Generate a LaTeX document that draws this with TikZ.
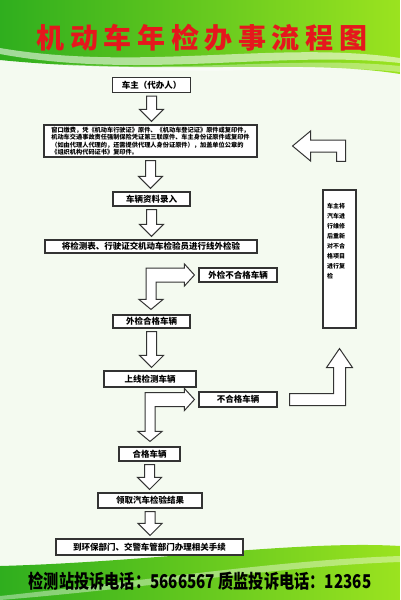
\documentclass[tikz,border=0pt]{standalone}
\usepackage{fontspec}
\newfontfamily\cjk{Noto Sans CJK SC}
\usetikzlibrary{calc}
\definecolor{hdrA}{HTML}{2FAE1E}
\definecolor{hdrB}{HTML}{9BE31F}
\definecolor{paper}{HTML}{F4FAF0}
\definecolor{ink}{HTML}{333333}
\definecolor{titlered}{HTML}{E5171D}
\newcommand\hollowdown[2]{%
  \draw[hollow] let \p1=(#1.south), \p2=(#2.north) in
    (\x1-5pt,\y1-3pt) -- (\x1+5pt,\y1-3pt) -- (\x1+5pt,\y2+15pt) -- (\x1+12pt,\y2+15pt)
    -- (\x1,\y2+3pt) -- (\x1-12pt,\y2+15pt) -- (\x1-5pt,\y2+15pt) -- cycle;}
\newcommand\hollowbranch[3]{%
  \draw[hollow] let \p1=(#1.south), \p2=(#2.north), \p3=(#3.west) in
    (\x1-5pt,\y3+7pt) -- (\x3-14pt,\y3+7pt) -- (\x3-14pt,\y3+11pt) -- (\x3-4pt,\y3)
    -- (\x3-14pt,\y3-11pt) -- (\x3-14pt,\y3-7pt) -- (\x1+5pt,\y3-7pt) -- (\x1+5pt,\y2+15pt)
    -- (\x1+12pt,\y2+15pt) -- (\x1,\y2+5pt) -- (\x1-12pt,\y2+15pt) -- (\x1-5pt,\y2+15pt) -- cycle;}
\begin{document}
\begin{tikzpicture}[x=1pt,y=-1pt,line join=miter,
  box/.style={draw=ink,line width=1.1pt,fill=white,inner sep=0pt,minimum height=14pt,
    font=\cjk\bfseries\fontsize{8.5}{10}\selectfont},
  hollow/.style={draw=ink,line width=1pt,fill=white}]
  \useasboundingbox (0,0) rectangle (400,600);
  \fill[paper] (0,0) rectangle (400,600);
  \shade[left color=hdrA,right color=hdrB] (0,0) -- (400,0) -- (400,74)
    .. controls (300,58) and (160,76) .. (0,60) -- cycle;
  \fill[white,opacity=.55] (0,48) .. controls (140,72) and (280,40) .. (400,58) -- (400,63)
    .. controls (280,50) and (140,80) .. (0,54) -- cycle;
  \fill[white,opacity=.35] (60,64) .. controls (200,72) and (300,56) .. (400,66) -- (400,72)
    .. controls (300,62) and (200,80) .. (60,64) -- cycle;
  \shade[left color=hdrA,right color=hdrB] (0,600) -- (0,566)
    .. controls (150,562) and (300,540) .. (400,546) -- (400,600) -- cycle;
  \fill[white,opacity=.4] (0,596) .. controls (150,580) and (280,560) .. (400,556) -- (400,562)
    .. controls (280,566) and (150,588) .. (0,600) -- cycle;
  \node[text=titlered,draw=white,line width=.6pt,
    font=\cjk\bfseries\fontsize{28}{30}\selectfont\addfontfeature{LetterSpace=20},
    draw=none] (title) at (202,38) {机动车年检办事流程图};
  \node[box,minimum width=78pt,minimum height=15pt] (owner) at (151.5,85) {车主（代办人）};
  \node[box,minimum width=213pt,minimum height=32pt,align=left,
    font=\cjk\bfseries\fontsize{6.2}{7.4}\selectfont] (info) at (150.5,141)
    {窗口缴费，凭《机动车行驶证》原件、《机动车登记证》原件或复印件，\\
     机动车交通事故责任强制保险凭证第三联原件、车主身份证原件或复印件\\
     （如由代理人代理的，还需提供代理人身份证原件），加盖单位公章的\\
     《组织机构代码证书》复印件。};
  \node[box,minimum width=77pt] (input) at (151.5,199) {车辆资料录入};
  \node[box,minimum width=212pt,minimum height=13pt] (check) at (151,246.5)
    {将检测表、行驶证交机动车检验员进行线外检验};
  \node[box,minimum width=78pt] (fail1) at (238,275) {外检不合格车辆};
  \node[box,minimum width=77pt,minimum height=13pt] (pass1) at (151.5,321.5) {外检合格车辆};
  \node[box,minimum width=92pt,minimum height=16pt] (online) at (150,379) {上线检测车辆};
  \node[box,minimum width=78pt,minimum height=15pt] (fail2) at (238,399.5) {不合格车辆};
  \node[box,minimum width=61pt] (pass2) at (149.5,454) {合格车辆};
  \node[box,minimum width=104pt,minimum height=15pt] (result) at (150,500.5) {领取汽车检验结果};
  \node[box,minimum width=187pt,minimum height=16pt] (final) at (149.5,547)
    {到环保部门、交警车管部门办理相关手续};
  \node[box,inner xsep=4pt,inner ysep=0pt,font=\cjk\bfseries\fontsize{6}{10}\selectfont]
    (redo) at (339.5,259) {\parbox[t][138pt][t]{25pt}{\vspace{13pt}车主将\\汽车进\\行维修\\后重新\\对不合\\格项目\\进行复\\检}};
  \hollowdown{owner}{info}
  \hollowdown{info}{input}
  \hollowdown{input}{check}
  \hollowbranch{check}{pass1}{fail1}
  \hollowdown{pass1}{online}
  \hollowbranch{online}{pass2}{fail2}
  \hollowdown{pass2}{result}
  \hollowdown{result}{final}
  \draw[hollow] let \p1=(fail2.east), \p2=(redo.south) in
    (\x1+12pt,\y1+6pt) -- (\x2-6pt,\y1+6pt) -- (\x2-6pt,\y2-39pt) -- (\x2-13pt,\y2-39pt)
    -- (\x2,\y2-20pt) -- (\x2+13pt,\y2-39pt) -- (\x2+6pt,\y2-39pt) -- (\x2+6pt,\y1-6pt)
    -- (\x1+12pt,\y1-6pt) -- cycle;
  \draw[hollow] let \p1=(info.east), \p2=(redo.north) in
    (\x1+35pt,\y1-5pt) -- (\x1+53pt,\y1+10pt) -- (\x1+53pt,\y1+1pt) -- (\x2+6pt,\y1+1pt)
    -- (\x2+6pt,\y2+28pt) -- (\x2-3pt,\y2+28pt) -- (\x2-3pt,\y1-11pt) -- (\x1+53pt,\y1-11pt)
    -- (\x1+53pt,\y1-20pt) -- cycle;
  \node[font=\cjk\bfseries\fontsize{19}{21}\selectfont] (hotline) at (200,581)
    {\scalebox{0.8}[1]{检测站投诉电话：5666567 质监投诉电话：12365}};
\end{tikzpicture}
\end{document}
